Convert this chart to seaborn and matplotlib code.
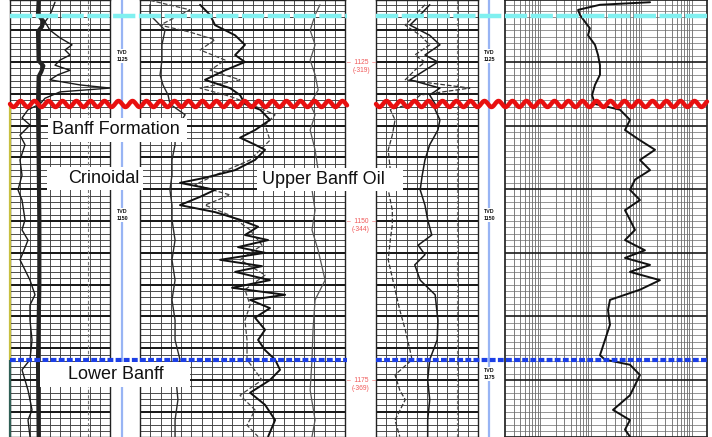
import numpy as np
import matplotlib
matplotlib.use("Agg")
import matplotlib.pyplot as plt
import seaborn as sns
from matplotlib.patches import Rectangle

sns.set_theme(style="white")
plt.rcParams["font.family"] = ["Liberation Sans", "DejaVu Sans"]

# ---------------------------------------------------------------- depth window (m TVD)
TOP, BASE = 1115.25, 1183.96
W, H = 712, 437

# formation picks
pick_names = ["Exshaw", "Banff", "Lower Banff"]
pick_depths = [1117.8, 1131.6, 1171.8]

# depth annotations
depth_marks = [1125, 1150, 1175]
subsea_marks = ["(-319)", "(-344)", "(-369)"]

# ---------------------------------------------------------------- well A, track 1 (API)
gr_a_depth = [1115.6, 1117.6, 1118.7, 1120.0, 1121.2, 1122.3, 1123.1, 1123.9, 1124.7,
              1125.5, 1126.3, 1127.0, 1127.8, 1128.6, 1129.1, 1129.7, 1130.7, 1131.6,
              1132.5, 1133.8, 1134.9, 1136.5, 1138.0, 1140.4, 1142.8, 1145.1, 1146.7,
              1149.8, 1151.4, 1153.0, 1154.6, 1156.1, 1157.7, 1159.3, 1161.6, 1163.2,
              1165.6, 1168.7, 1171.8, 1173.4, 1175.0, 1176.6, 1178.1, 1179.7, 1181.3, 1183.9]
gr_a = [67.5, 60, 52.5, 60, 75, 93, 82.5, 90, 75,
        67.5, 90, 72, 60, 105, 150, 75, 52.5, 45,
        27, 18, 30, 15, 22.5, 15, 18, 12, 18,
        22.5, 18, 27, 21, 15, 22.5, 30, 37.5, 30,
        30, 33, 30, 18, 22.5, 27, 30, 33, 27, 30]

cal_a_depth = [1115.3, 1117.5, 1118.6, 1119.4, 1120.2, 1124.8, 1125.6, 1126.5, 1127.3,
               1131.6, 1140.0, 1150.0, 1160.0, 1171.8, 1183.9]
cal_a = [43, 42, 50, 48, 42, 43, 50, 47, 43, 42, 43, 44, 44, 42, 43]

# ---------------------------------------------------------------- well A, track 2 (%)
nphi_a_depth = [1116.0, 1117.6, 1120.0, 1122.3, 1124.7, 1127.0, 1128.6, 1130.2, 1131.6,
                1133.3, 1135.7, 1138.0, 1140.4, 1142.8, 1145.1, 1147.5, 1149.8, 1153.0,
                1156.1, 1159.3, 1162.4, 1165.6, 1168.7, 1171.8, 1175.0, 1178.1, 1181.3, 1183.9]
nphi_a = [4.9, 4.9, 12.2, 10.7, 10.7, 9.8, 11.2, 13.7, 14.6,
          22.0, 17.1, 17.1, 15.6, 15.6, 14.6, 15.6, 15.6, 17.1,
          15.6, 17.1, 15.6, 17.1, 17.1, 19.5, 17.6, 18.5, 17.1, 17.1]

dt_a_depth = [1116.0, 1117.6, 1119.2, 1120.8, 1122.3, 1123.9, 1125.0, 1126.3, 1127.8,
              1129.1, 1130.2, 1131.6, 1132.5, 1134.1, 1135.7, 1136.9, 1138.0, 1138.8,
              1140.4, 1142.0, 1143.2, 1144.0, 1145.1, 1146.2, 1147.5, 1148.6, 1149.8,
              1150.9, 1152.2, 1153.0, 1154.1, 1155.0, 1156.1, 1157.1, 1158.0, 1159.3,
              1160.5, 1161.6, 1162.4, 1163.7, 1165.2, 1167.1, 1168.7, 1170.3, 1171.8,
              1173.4, 1175.0, 1177.0, 1178.9, 1181.3, 1183.9]
dt_a = [29.3, 34.2, 36.6, 46.4, 51.2, 46.4, 51.2, 41.5, 31.7,
        43.9, 48.8, 51.2, 58.6, 63.4, 56.1, 48.8, 56.1, 61.0,
        56.1, 46.4, 31.7, 19.5, 36.6, 29.3, 19.5, 36.6, 48.8,
        57.6, 51.2, 62.5, 47.8, 61.0, 39.0, 59.5, 46.4, 63.4,
        44.9, 70.8, 53.7, 63.4, 56.1, 61.0, 57.6, 61.0, 65.9,
        68.3, 63.4, 53.7, 61.0, 65.9, 62.5]

dphi_a_depth = [1115.3, 1116.8, 1119.2, 1120.3, 1121.5, 1123.1, 1124.7, 1126.3, 1127.8,
                1129.1, 1130.4, 1131.6, 1133.3, 1134.9, 1137.3, 1140.4, 1142.8, 1144.3,
                1145.9, 1147.5, 1149.1, 1151.4, 1153.8, 1156.1, 1158.5, 1160.8, 1163.2,
                1165.6, 1168.7, 1171.8, 1175.0, 1177.4, 1179.7, 1182.1, 1183.9]
dphi_a = [4.9, 24.4, 9.8, 24.4, 36.6, 29.3, 41.5, 34.2, 48.8,
          29.3, 43.9, 53.7, 65.9, 61.0, 63.4, 53.7, 36.6, 26.8,
          43.9, 31.7, 43.9, 53.7, 59.5, 48.8, 61.0, 51.2, 53.7,
          51.2, 52.2, 52.2, 59.5, 48.8, 56.1, 52.2, 57.6]

pe_a_depth = [1116.0, 1117.6, 1120.0, 1122.3, 1124.7, 1127.0, 1129.4, 1131.6, 1133.3,
              1135.7, 1138.8, 1142.0, 1145.1, 1148.3, 1151.4, 1154.6, 1159.3, 1162.4,
              1167.1, 1171.8, 1176.6, 1181.3, 1183.9]
pe_a = [87.8, 85.4, 83.0, 85.4, 83.0, 85.4, 86.9, 83.0, 85.4,
        83.0, 85.4, 86.9, 83.9, 85.4, 83.9, 86.9, 90.3, 85.4,
        84.4, 83.9, 83.0, 85.4, 83.9]

# ---------------------------------------------------------------- well B, track 1 (API)
gr_b_depth = [1116.0, 1117.6, 1119.2, 1120.8, 1122.3, 1123.9, 1125.0, 1126.3, 1127.8,
              1129.1, 1130.2, 1131.6, 1132.5, 1134.1, 1136.5, 1138.8, 1142.0, 1145.1,
              1148.3, 1150.6, 1153.0, 1156.1, 1160.8, 1164.0, 1167.1, 1170.3, 1171.8,
              1174.2, 1176.6, 1178.1, 1181.3, 1183.9]
gr_b = [72, 57, 43, 65, 79, 57, 72, 57, 43,
        138, 65, 50, 21, 28, 24, 18, 21, 18,
        24, 24, 21, 18, 28, 35, 43, 50, 53,
        28, 35, 43, 28, 35]

sp_b_depth = [1116.0, 1117.6, 1119.2, 1120.8, 1122.3, 1123.9, 1125.0, 1126.3, 1127.8,
              1129.1, 1130.2, 1131.6, 1132.5, 1134.1, 1135.7, 1138.0, 1140.4, 1142.8,
              1145.1, 1147.5, 1149.8, 1152.2, 1153.8, 1155.3, 1156.9, 1159.3, 1161.6,
              1165.6, 1168.7, 1171.8, 1175.0, 1178.1, 1181.3, 1183.9]
sp_b = [79, 65, 50, 79, 94, 72, 91, 72, 50,
        94, 79, 87, 87, 94, 91, 79, 72, 68,
        65, 72, 76, 82, 62, 72, 57, 65, 87,
        91, 90, 79, 76, 79, 76, 76]

# ---------------------------------------------------------------- well B, track 2 (ohm.m)
res_b_depth = [1115.6, 1116.0, 1116.8, 1117.6, 1118.7, 1119.7, 1120.8, 1122.3, 1123.9,
               1125.5, 1127.0, 1128.6, 1130.2, 1131.6, 1132.5, 1134.1, 1135.7, 1137.3,
               1138.8, 1140.4, 1142.0, 1143.5, 1145.1, 1146.7, 1148.3, 1149.8, 1151.4,
               1153.0, 1154.6, 1155.8, 1156.9, 1158.0, 1159.3, 1160.8, 1162.4, 1164.0,
               1166.3, 1168.7, 1171.1, 1171.8, 1172.6, 1174.2, 1175.8, 1177.4, 1179.7,
               1181.3, 1182.8, 1183.9]
res_b = [149, 15.2, 5.6, 6.1, 7.7, 9.6, 8.8, 12.1, 13.9,
         15.2, 15.2, 12.1, 10.6, 12.1, 37.8, 59.7, 47.5, 94,
         187, 94, 149, 75, 59.7, 94, 47.5, 59.7, 75,
         47.5, 118, 47.5, 149, 59.7, 234, 94, 24, 21.9,
         24, 19.1, 15.2, 19.1, 59.7, 94, 75, 59.7, 27.5,
         59.7, 47.5, 59.7]

# ---------------------------------------------------------------- layout (pixels)
tracks = {
    "a1": (10, 110), "a2": (140, 345),
    "b1": (376, 478), "b2": (505, 707),
}
depth_cols = {"a": 122, "b": 489}
# TVD tags per depth column (the well A tag at 1175 sits under the Lower Banff label)
tvd_tags = {"a": [1125, 1150], "b": [1125, 1150, 1175]}

fig = plt.figure(figsize=(W / 100, H / 100), dpi=100)
fig.patch.set_facecolor("white")

MINOR = dict(color="#3f3f3f", lw=0.65, zorder=1)
MAJOR = dict(color="#151515", lw=1.4, zorder=1)


def add_track(key, xlim, vticks, hstep=1):
    x0, x1 = tracks[key]
    ax = fig.add_axes([x0 / W, 0, (x1 - x0) / W, 1])
    ax.set_xlim(*xlim)
    ax.set_ylim(BASE, TOP)
    for v in vticks:
        ax.axvline(v, **MINOR)
    for d in np.arange(1116, 1184, hstep):
        ax.axhline(d, **(MAJOR if d % 5 == 0 else MINOR))
    ax.set_xticks([])
    ax.set_yticks([])
    for s in ax.spines.values():
        s.set_color("#222222")
        s.set_linewidth(1.0)
    ax.set_facecolor("white")
    return ax


def trace(ax, depth, vals, **kw):
    sns.lineplot(x=vals, y=depth, orient="y", sort=False, estimator=None,
                 ax=ax, legend=False, **kw)


ax_a1 = add_track("a1", (0, 150), np.arange(0, 151, 15))
ax_a1.axvline(117, color="#777777", lw=0.8, ls=(0, (3, 2)), zorder=1)
ax_a2 = add_track("a2", (0, 100), np.arange(0, 101, 5))
ax_b1 = add_track("b1", (0, 150), np.arange(0, 151, 15))
ax_b1.axvline(119, color="#777777", lw=0.8, ls=(0, (3, 2)), zorder=1)

log_lines = [n * 10.0 ** k for k in range(-1, 4) for n in range(1, 10)]
log_lines = [v for v in log_lines if 0.2 < v < 2000]
ax_b2 = fig.add_axes([tracks["b2"][0] / W, 0, (tracks["b2"][1] - tracks["b2"][0]) / W, 1])
ax_b2.set_xscale("log")
ax_b2.set_xlim(0.2, 2000)
ax_b2.set_ylim(BASE, TOP)
for v in log_lines:
    ax_b2.axvline(v, color="#6a6a6a", lw=0.6, zorder=1)
for d in np.arange(1116, 1184, 1):
    if d % 10 == 5:
        ax_b2.axhline(d, color="#1a1a1a", lw=1.2, zorder=1)
    else:
        ax_b2.axhline(d, color="#6a6a6a", lw=0.5, zorder=1)
ax_b2.set_xticks([])
ax_b2.set_yticks([])
ax_b2.minorticks_off()
for s in ax_b2.spines.values():
    s.set_color("#222222")

# ---------------------------------------------------------------- curves
trace(ax_a1, cal_a_depth, cal_a, color="#222222", lw=3.0, zorder=3)
trace(ax_a1, gr_a_depth, gr_a, color="#1a1a1a", lw=1.0, zorder=4)
trace(ax_a2, nphi_a_depth, nphi_a, color="#2a2a2a", lw=1.0, zorder=3)
trace(ax_a2, dphi_a_depth, dphi_a, color="#444444", lw=0.9, ls="--", zorder=3)
trace(ax_a2, dt_a_depth, dt_a, color="#111111", lw=1.4, zorder=4)
trace(ax_a2, pe_a_depth, pe_a, color="#555555", lw=0.9, zorder=3)
trace(ax_b1, gr_b_depth, gr_b, color="#333333", lw=0.9, ls="--", zorder=3)
trace(ax_b1, sp_b_depth, sp_b, color="#1a1a1a", lw=1.1, zorder=4)
trace(ax_b2, res_b_depth, res_b, color="#111111", lw=1.4, zorder=4)

# ---------------------------------------------------------------- overlay: depth columns, picks, labels
ov = fig.add_axes([0, 0, 1, 1])
ov.set_xlim(0, W)
ov.set_ylim(BASE, TOP)
ov.axis("off")
ov.patch.set_alpha(0)


def px_depth(y):
    return TOP + y * (BASE - TOP) / H


for key, xc in depth_cols.items():
    ov.axvline(xc, color="#98b4f4", lw=1.6, zorder=2)
    for d in tvd_tags[key]:
        ov.text(xc, d, f"TVD\n{d}", ha="center", va="bottom", fontsize=3.8,
                fontweight="bold", color="#111111", linespacing=1.6, zorder=3,
                bbox=dict(boxstyle="square,pad=0.15", fc="white", ec="none"))

for d, ss in zip(depth_marks, subsea_marks):
    ov.text(361, d, f"–  {d}  –", ha="center", va="center", fontsize=4.8,
            color="#f05a5a", zorder=3)
    ov.text(361, d + 1.35, ss, ha="center", va="center", fontsize=4.8,
            color="#f05a5a", zorder=3)

spans = [(10, 347), (376, 707)]
# Exshaw pick: cyan dashed
for x0, x1 in spans:
    ov.hlines(pick_depths[0], x0, x1, color="#80f0f0", lw=3.2,
              linestyles=[(0, (5.0, 0.8))], zorder=6)
# Banff pick: red wavy unconformity
amp = 3 * (BASE - TOP) / H
for x0, x1 in spans:
    xs = np.linspace(x0, x1, 600)
    ov.plot(xs, pick_depths[1] + amp * np.sin(2 * np.pi * (xs - x0) / 14.0),
            color="#e81010", lw=3.2, solid_capstyle="round", zorder=6)
# Lower Banff pick: blue dotted
for x0, x1 in spans:
    ov.hlines(pick_depths[2], x0, x1, color="#1c3fe6", lw=3.0,
              linestyles=[(0, (1.4, 0.55))], zorder=6)

# zone bar along the left edge
ov.vlines(10, pick_depths[1], pick_depths[2], color="#c8c040", lw=1.6, zorder=5)
ov.vlines(10, pick_depths[2], BASE, color="#2f5f55", lw=1.6, zorder=5)

# formation labels on white boxes
labels = [
    ("Banff Formation", 48, 187, 118, 142, 52),
    ("Crinoidal", 47, 143, 167, 190, 68),
    ("Upper Banff Oil", 257, 403, 168, 191, 262),
    ("Lower Banff", 40, 190, 362, 387, 68),
]
for txt, bx0, bx1, by0, by1, tx in labels:
    d0, d1 = px_depth(by0), px_depth(by1)
    ov.add_patch(Rectangle((bx0, d0), bx1 - bx0, d1 - d0, fc="white", ec="none", zorder=7))
    ov.text(tx, (d0 + d1) / 2, txt, ha="left", va="center", fontsize=13,
            color="#111111", zorder=8)

fig.savefig("out.png", dpi=100, facecolor="white")
